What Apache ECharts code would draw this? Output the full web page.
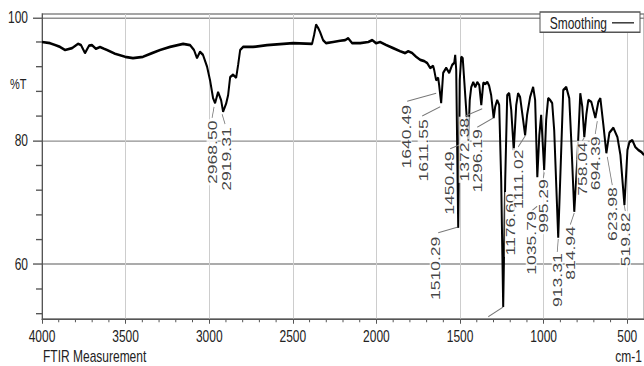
<!DOCTYPE html>
<html>
<head>
<meta charset="utf-8">
<script src="https://cdn.jsdelivr.net/npm/echarts@6/dist/echarts.min.js"></script>
<style>
  html { overflow: hidden; }
  html, body { margin: 0; padding: 0; background: #fff; width: 644px; height: 366px; }
  /* the source picture is stretched vertically (~1.35x); mimic it with a CSS scale */
  #chart { width: 644px; height: 271px; transform: scaleY(1.35055); transform-origin: 0 0; }
</style>
</head>
<body>
<div id="chart"></div>
<script>
// FTIR spectrum: wavenumber (cm-1) and %T
const WAVENUMBER = [
  4000, 3952, 3922, 3892, 3862, 3820, 3785, 3767, 3743, 3719, 3701, 3677, 3653, 3629, 3611,
  3563, 3503, 3456, 3396, 3342, 3294, 3234, 3156, 3115, 3091, 3073, 3055, 3037, 3013, 2995,
  2977, 2965, 2947, 2929, 2917, 2899, 2887, 2875, 2857, 2839, 2827, 2815, 2797, 2738, 2654,
  2498, 2385, 2373, 2361, 2349, 2337, 2319, 2301, 2259, 2217, 2187, 2169, 2145, 2097, 2049,
  2025, 2002, 1978, 1942, 1900, 1858, 1828, 1810, 1786, 1762, 1738, 1714, 1697, 1679, 1661,
  1655, 1643, 1631, 1625, 1613, 1601, 1583, 1565, 1547, 1535, 1529, 1523, 1511, 1502, 1493,
  1484, 1475, 1451, 1442, 1433, 1421, 1409, 1397, 1385, 1373, 1361, 1349, 1337, 1326, 1314,
  1299, 1290, 1278, 1266, 1254, 1242, 1230, 1218, 1206, 1194, 1179, 1164, 1153, 1141, 1123,
  1111, 1099, 1081, 1063, 1051, 1038, 1026, 1015, 997, 985, 973, 961, 949, 937, 913,
  895, 883, 865, 847, 835, 817, 799, 781, 769, 757, 745, 733, 715, 691, 673,
  661, 643, 625, 607, 583, 559, 541, 517, 499, 487, 470, 452, 434, 416, 400,
];
const TRANSMITTANCE = [
  96.0, 95.8, 95.5, 95.2, 94.7, 95.0, 95.7, 95.5, 94.2, 95.4, 95.5, 94.9, 95.2, 94.9, 94.7,
  94.1, 93.6, 93.4, 93.6, 94.2, 94.7, 95.2, 95.7, 95.5, 94.7, 93.4, 94.4, 93.9, 92.0, 89.8,
  86.9, 86.1, 87.9, 86.6, 84.7, 86.0, 87.4, 90.3, 90.7, 90.2, 92.3, 94.7, 95.2, 95.2, 95.5,
  95.8, 95.7, 97.1, 98.8, 98.3, 97.6, 96.3, 95.8, 96.0, 96.2, 96.3, 96.6, 95.8, 95.8, 96.0,
  96.3, 95.8, 96.0, 95.5, 95.0, 94.5, 94.2, 94.5, 94.2, 93.6, 93.1, 92.9, 92.6, 91.8, 92.1,
  91.5, 89.8, 90.2, 89.0, 86.1, 91.0, 91.8, 91.0, 92.3, 92.6, 93.9, 91.5, 65.9, 89.8, 93.6,
  93.4, 89.8, 80.1, 86.6, 88.7, 89.5, 88.7, 89.5, 89.0, 85.8, 89.4, 89.2, 89.5, 88.9, 87.4,
  83.7, 85.5, 86.6, 85.8, 73.6, 53.1, 73.6, 87.4, 87.7, 85.0, 78.5, 85.8, 87.7, 87.1, 83.4,
  80.9, 84.2, 87.1, 88.7, 86.6, 74.1, 80.9, 84.2, 75.3, 83.4, 86.9, 86.6, 86.1, 81.7, 64.3,
  78.5, 88.2, 88.7, 86.9, 80.1, 68.5, 76.9, 87.7, 85.5, 80.6, 84.2, 86.6, 86.3, 83.7, 86.3,
  86.9, 82.6, 78.0, 81.3, 82.1, 80.6, 77.7, 69.6, 78.5, 79.8, 80.1, 79.0, 78.5, 78.2, 77.7,
];

// peak-pick labels as printed on the plot
const PEAK_TEXT = [
  "2968.50", "2919.31", "1640.49", "1611.55", "1510.29", "1450.49", "1372.38", "1296.19",
  "1176.60", "1111.02", "1035.79", "995.29", "913.31", "814.94", "758.04", "694.39",
  "623.98", "519.82",
];

// axis ticks
const X_MAJOR = [500, 1000, 1500, 2000, 2500, 3000, 3500, 4000];
const X_MINOR = [];
for (let v = 500; v <= 4000; v += 100) if (v % 500) X_MINOR.push(v);
const Y_MAJOR = [60, 80, 100];
const Y_MINOR = [52, 56, 64, 68, 72, 76, 84, 88, 92, 96];

// ---- layout (in data units, so it goes through the axes) ----
const X_RANGE = [400, 4000];
const Y_RANGE = [51.14, 100.53];
// top end of each rotated peak label
const LABEL_POS = [
  [2982.9, 83.5], [2899.1, 82.4], [1822.2, 86.0], [1720.5, 83.7], [1648.7, 64.7], [1564.9, 78.5],
  [1475.2, 83.9], [1397.4, 82.1], [1200.0, 71.7], [1152.1, 78.8], [1074.3, 68.8], [1002.5, 74.0],
  [918.8, 62.0], [841.0, 66.4], [769.2, 80.0], [691.4, 80.9], [589.7, 72.7], [511.9, 68.6],
];
// leader lines from labels to peaks
const LEADERS = [
  [[2982.9, 83.7], [2971.0, 85.5]], [[2905.1, 82.7], [2923.1, 84.3]],
  [[1816.2, 86.4], [1642.7, 87.7]], [[1726.5, 84.0], [1618.8, 85.5]],
  [[1630.7, 65.1], [1517.1, 66.0]], [[1558.9, 78.7], [1463.2, 79.8]],
  [[1469.2, 84.0], [1367.5, 85.2]], [[1397.4, 82.2], [1301.7, 83.7]],
  [[1241.9, 53.1], [1331.6, 51.5]], [[1152.1, 79.0], [1110.2, 80.8]],
  [[1074.3, 68.6], [1038.4, 69.4]], [[1002.5, 73.8], [996.5, 74.9]],
  [[918.8, 62.0], [912.8, 64.1]], [[841.0, 66.4], [817.1, 68.3]],
  [[769.2, 80.0], [757.2, 80.5]], [[691.4, 81.1], [679.4, 83.2]],
  [[589.7, 72.8], [619.6, 77.4]], [[511.9, 68.6], [517.9, 69.6]],
];

const FONT = "'Liberation Sans', Arial, sans-serif";
const AXIS = "#555";

const chart = echarts.init(document.getElementById("chart"), null, { renderer: "svg" });

// minor tick marks as thin rect symbols sitting on the axis lines
const tickSeries = (data, size, offset) => ({
  type: "scatter",
  silent: true,
  clip: false,
  symbol: "rect",
  symbolSize: size,
  symbolOffset: offset,
  itemStyle: { color: AXIS, opacity: 1 },
  data,
  z: 6,
});

chart.setOption({
  animation: false,
  grid: {
    left: 42, right: 0, top: 10.37, bottom: 34.8,
    show: true, borderColor: "#888", borderWidth: 1, backgroundColor: "transparent",
  },
  legend: {
    data: [{ name: "Smoothing", icon: "rect" }],
    left: 540, top: 8.9, align: "right",
    itemWidth: 22, itemHeight: 1, itemGap: 0,
    padding: [1, 6, 0, 5],
    backgroundColor: "#fff", borderColor: "#555", borderWidth: 1, borderRadius: 0,
    textStyle: { fontFamily: FONT, fontSize: 12, color: "#222", lineHeight: 14, width: 62 },
    selectedMode: false,
  },
  xAxis: {
    type: "value", inverse: true, min: X_RANGE[0], max: X_RANGE[1], position: "bottom",
    axisLine: { show: true, onZero: false, lineStyle: { color: AXIS } },
    axisTick: { show: true, customValues: X_MAJOR, length: 3.5, lineStyle: { color: AXIS } },
    axisLabel: {
      customValues: X_MAJOR, margin: 7, color: "#222", fontFamily: FONT, fontSize: 12,
      formatter: (v) => String(v),
    },
    splitLine: { show: true, lineStyle: { color: "#cdcdcd" } },
  },
  yAxis: {
    type: "value", min: Y_RANGE[0], max: Y_RANGE[1], position: "left",
    axisLine: { show: true, onZero: false, lineStyle: { color: AXIS } },
    axisTick: { show: true, customValues: Y_MAJOR, length: 9, lineStyle: { color: AXIS } },
    axisLabel: {
      customValues: Y_MAJOR, margin: 14, color: "#222", fontFamily: FONT, fontSize: 12,
      formatter: (v) => String(v),
    },
    splitLine: { show: true, lineStyle: { color: "#8f8f8f" } },
  },
  graphic: [
    { type: "text", left: 10, top: 56.5, style: { text: "%T", fontFamily: FONT, fontSize: 11, fill: "#222" } },
    { type: "text", left: 43, top: 258, style: { text: "FTIR Measurement", fontFamily: FONT, fontSize: 12, fill: "#222" } },
    { type: "text", right: 2, top: 258, style: { text: "cm-1", fontFamily: FONT, fontSize: 12, fill: "#222" } },
  ],
  series: [
    {
      name: "Smoothing",
      type: "line",
      data: WAVENUMBER.map((w, i) => [w, TRANSMITTANCE[i]]),
      symbol: "none",
      showSymbol: false,
      lineStyle: { color: "#000", width: 2 },
      itemStyle: { color: "#222" },
      z: 3,
    },
    {
      type: "lines",
      coordinateSystem: "cartesian2d",
      silent: true,
      data: LEADERS.map((c) => ({ coords: c })),
      lineStyle: { color: "#777", width: 0.8, opacity: 1 },
      z: 4,
    },
    {
      type: "scatter",
      silent: true,
      symbolSize: 0,
      data: LABEL_POS,
      label: {
        show: true,
        position: "inside",
        rotate: 90,
        align: "right",
        verticalAlign: "middle",
        formatter: (p) => PEAK_TEXT[p.dataIndex],
        fontFamily: FONT,
        fontSize: 13,
        lineHeight: 11,
        color: "#111",
        backgroundColor: "#fff",
        padding: [0, 1],
      },
      z: 5,
    },
    tickSeries(X_MINOR.map((v) => [v, Y_RANGE[0]]), [1, 2.4], [0, 1.2]),
    tickSeries(Y_MINOR.map((v) => [X_RANGE[1], v]), [6, 1], [-3, 0]),
  ],
});
</script>
</body>
</html>
